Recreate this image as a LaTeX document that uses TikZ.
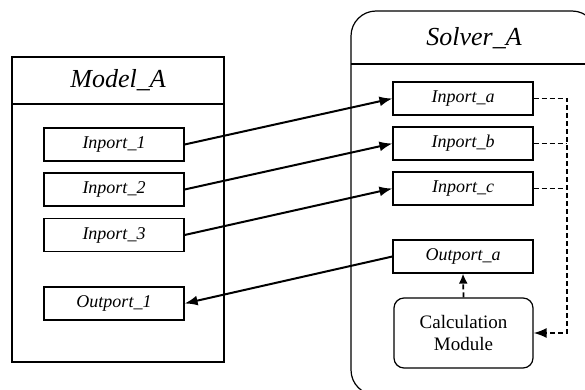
\documentclass[tikz,border=0pt]{standalone}
\usepackage{fontspec}
\setmainfont{Liberation Serif}
\usetikzlibrary{arrows.meta}

\tikzset{
  frame/.style={line width=1.2pt},
  port/.style={draw, line width=1.2pt, fill=white, minimum width=140pt, minimum height=33pt,
    inner sep=0pt, font=\fontsize{18}{21}\selectfont\itshape},
  link/.style={line width=2pt, -{Latex[length=13pt,width=10pt]}},
  dashlink/.style={line width=1.8pt, dash pattern=on 5pt off 3pt},
}

\begin{document}
\begin{tikzpicture}[x=1pt,y=-1pt]
        \clip (0,0) rectangle (585,390);

        % Model_A
        \draw[frame] (12,57) rectangle (224,362);
        \draw[frame] (12,104) -- (224,104);
        \node[font=\fontsize{26}{31}\selectfont\itshape] (mtitle) at (118,80) {Model\_A};

        % Solver_A
        \draw[frame, rounded corners=25pt] (351,11) rectangle (597,395);
        \draw[frame] (351,64) -- (597,64);
        \node[font=\fontsize{26}{31}\selectfont\itshape] (stitle) at (474,38) {Solver\_A};

        \node[port] (in1) at (114,144.5) {Inport\_1};
        \node[port] (in2) at (114,189.5) {Inport\_2};
        \node[port] (in3) at (114,235) {Inport\_3};
        \node[port] (out1) at (114,303.5) {Outport\_1};

        \node[port] (ina) at (463,98.5) {Inport\_a};
        \node[port] (inb) at (463,143.5) {Inport\_b};
        \node[port] (inc) at (463,188.5) {Inport\_c};
        \node[port] (outa) at (463,256.5) {Outport\_a};
        \node[draw, line width=1.2pt, rounded corners=10pt, minimum width=139pt, minimum height=70pt,
          align=center, font=\fontsize{19}{22}\selectfont] (calc) at (463.5,333) {Calculation\\Module};

        \coordinate (bus) at (567,98.5);

        \draw[link] (in1.east) -- (ina.west);
        \draw[link] (in2.east) -- (inb.west);
        \draw[link] (in3.east) -- (inc.west);
        \draw[link] (outa.west) -- (out1.east);

        \draw[dashlink, -{Latex[length=13pt,width=10pt]}] (ina.east) -- (ina.east -| bus) |- (calc.east);
        \draw[dashlink] (inb.east) -- (inb.east -| bus);
        \draw[dashlink] (inc.east) -- (inc.east -| bus);
        \draw[dashlink, -{Latex[length=10pt,width=9pt]}] (calc.north) -- (outa.south);
\end{tikzpicture}
\end{document}
